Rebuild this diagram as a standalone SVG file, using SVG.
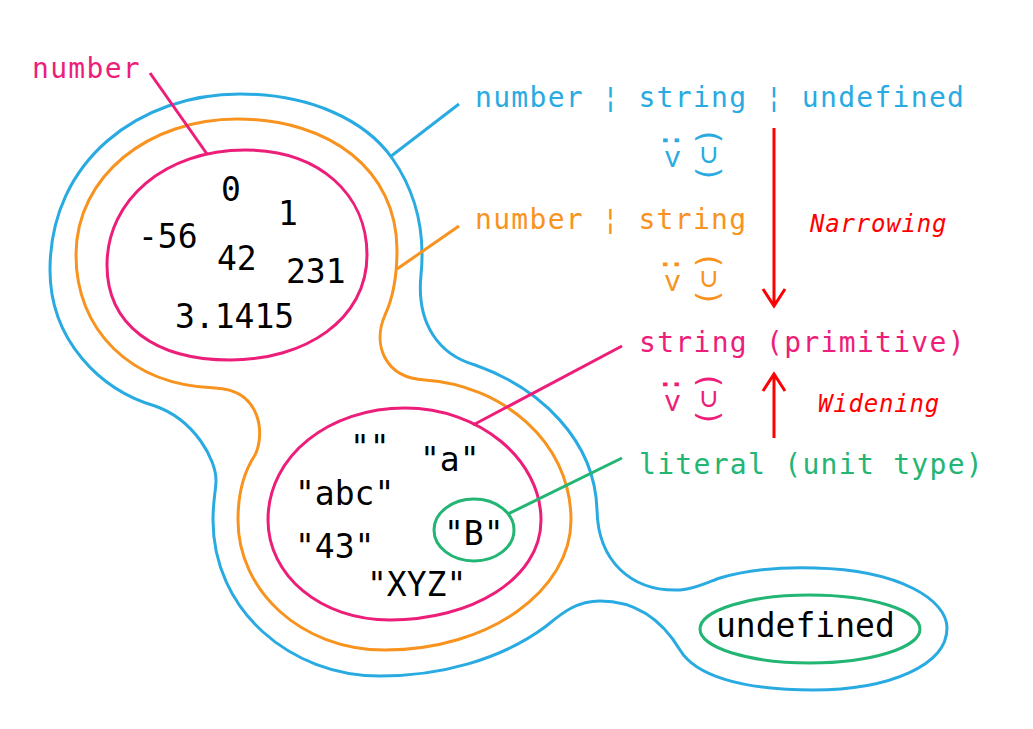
<svg xmlns="http://www.w3.org/2000/svg" width="1033" height="729" viewBox="0 0 1033 729">
  <defs>
    <style>
      .blob { fill: none; stroke-width: 3; stroke-linejoin: round; }
      .blue { stroke: #29abe2; }
      .orange { stroke: #f7931e; }
      .pink { stroke: #ed1e79; }
      .green { stroke: #22b573; }
      .val { font-family: "DejaVu Sans Mono", "Liberation Mono", monospace; font-size: 33px; fill: #000; }
      .lbl { font-family: "DejaVu Sans Mono", "Liberation Mono", monospace; font-size: 28px; letter-spacing: 1.3px; }
      .sym { font-family: "DejaVu Sans Mono", "Liberation Mono", monospace; font-size: 31px; }
      .note { font-family: "DejaVu Sans Mono", "Liberation Mono", monospace; font-size: 24px; font-style: italic; letter-spacing: 0.8px; fill: #ff0000; }
      .tblue { fill: #29abe2; }
      .torange { fill: #f7931e; }
      .tpink { fill: #ed1e79; }
      .tgreen { fill: #22b573; }
      .conn { stroke-width: 3; fill: none; }
      .arrow { stroke: #ff0000; stroke-width: 3; fill: none; }
    </style>
  </defs>
  <rect width="1033" height="729" fill="#ffffff"/>

  <!-- number | string | undefined -->
  <g id="union-all">
    <path class="blob blue" d="M 240,94 C 310,94 365,120 392,158 C 418,195 425,235 421,275 C 416,325 440,355 475,365 C 540,388 595,440 597,510 C 598,560 630,592 680,590 C 695,589 705,583 720,578 C 750,569 785,567 815,568 C 900,570 947,600 947,628 C 947,665 890,690 813,690 C 740,690 695,675 680,650 C 665,625 640,601 600,601 C 575,601 560,615 545,627 C 500,660 440,676 380,676 C 290,676 213,610 213,520 C 213,500 216,490 216,480 C 216,460 195,420 155,406 C 100,390 50,340 50,270 C 50,160 140,94 240,94 Z"/>
    <text class="lbl tblue" x="475" y="107">number ¦ string ¦ undefined</text>
  </g>

  <!-- number | string -->
  <g id="union-number-string">
    <path class="blob orange" d="M 237,119 C 330,119 397,170 397,250 C 397,280 392,300 385,315 C 372,345 385,378 425,380 C 500,385 571,440 571,520 C 571,590 490,650 385,650 C 300,650 238,590 238,520 C 238,490 245,470 255,455 C 265,435 262,390 215,388 C 130,385 76,330 76,255 C 76,175 150,119 237,119 Z"/>
    <text class="lbl torange" x="475" y="229">number ¦ string</text>
  </g>

  <!-- number -->
  <g id="number-set">
    <path class="blob pink" d="M 245,150 C 320,150 367,195 367,255 C 367,320 305,360 230,360 C 155,360 107,325 107,265 C 107,200 165,150 245,150 Z"/>
    <text class="val" x="221" y="201">0</text>
    <text class="val" x="278" y="225">1</text>
    <text class="val" x="138" y="248">-56</text>
    <text class="val" x="217" y="270">42</text>
    <text class="val" x="286" y="283">231</text>
    <text class="val" x="175" y="328">3.1415</text>
    <text class="lbl tpink" x="32" y="78">number</text>
  </g>

  <!-- string -->
  <g id="string-set">
    <path class="blob pink" d="M 405,408 C 480,408 541,460 541,520 C 541,580 470,620 390,620 C 320,620 268,575 268,520 C 268,455 330,408 405,408 Z"/>
    <text class="val" x="350" y="459">""</text>
    <text class="val" x="420" y="471">"a"</text>
    <text class="val" x="295" y="505">"abc"</text>
    <text class="val" x="295" y="558">"43"</text>
    <text class="val" x="367" y="596">"XYZ"</text>
    <text class="lbl tpink" x="639" y="352">string (primitive)</text>
  </g>

  <!-- literal "B" -->
  <g id="literal-b">
    <ellipse class="blob green" cx="474" cy="530" rx="40" ry="31"/>
    <text class="val" x="444" y="545">"B"</text>
    <text class="lbl tgreen" x="639" y="474">literal (unit type)</text>
  </g>

  <!-- undefined -->
  <g id="undefined-set">
    <ellipse class="blob green" cx="810" cy="629" rx="110" ry="34"/>
    <text class="val" x="716" y="637">undefined</text>
  </g>

  <!-- subset markers between the labels -->
  <g id="subset-marks">
    <text class="sym tblue" transform="translate(663,131) rotate(90)">:&gt;</text>
    <text class="sym tblue" transform="translate(699,127) rotate(90)">(⊃)</text>
    <text class="sym torange" transform="translate(663,255) rotate(90)">:&gt;</text>
    <text class="sym torange" transform="translate(699,251) rotate(90)">(⊃)</text>
    <text class="sym tpink" transform="translate(663,375) rotate(90)">:&gt;</text>
    <text class="sym tpink" transform="translate(699,371) rotate(90)">(⊃)</text>
  </g>

  <!-- narrowing / widening -->
  <g id="direction">
    <path class="arrow" d="M 774,128 L 774,306 M 763,289 L 774,306 L 785,289"/>
    <path class="arrow" d="M 774,438 L 774,374 M 763,391 L 774,374 L 785,391"/>
    <text class="note" x="810" y="232">Narrowing</text>
    <text class="note" x="818" y="412">Widening</text>
  </g>

  <!-- label leaders -->
  <g id="connectors">
    <line class="conn pink" x1="150" y1="73" x2="207" y2="154"/>
    <line class="conn blue" x1="459" y1="104" x2="390" y2="157"/>
    <line class="conn orange" x1="459" y1="226" x2="397" y2="269"/>
    <line class="conn pink" x1="622" y1="346" x2="473" y2="425"/>
    <line class="conn green" x1="622" y1="458" x2="508" y2="514"/>
  </g>
</svg>
